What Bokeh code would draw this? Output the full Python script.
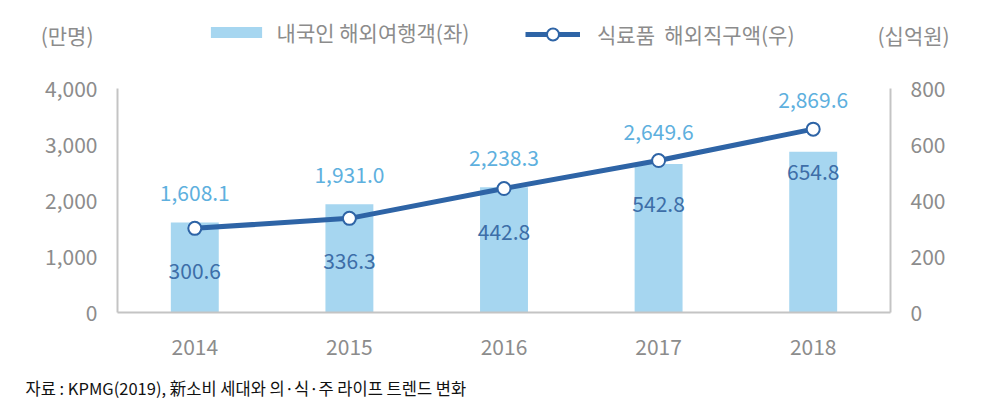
from bokeh.plotting import figure
from bokeh.layouts import column
from bokeh.models import (Range1d, LinearAxis, FixedTicker, NumeralTickFormatter,
                          Legend, LegendItem, ColumnDataSource, FactorRange)
from bokeh.embed import file_html
from bokeh.resources import INLINE
from bokeh.core.properties import value

years = ["2014", "2015", "2016", "2017", "2018"]
travelers = [1608.1, 1931.0, 2238.3, 2649.6, 2869.6]   # 만명 (left axis)
purchases = [300.6, 336.3, 442.8, 542.8, 654.8]        # 십억원 (right axis)
left_ticks = [0, 1000, 2000, 3000, 4000]
right_ticks = [0, 200, 400, 600, 800]
bar_name = "내국인 해외여행객(좌)"
line_name = "식료품  해외직구액(우)"
left_unit = "(만명)"
right_unit = "(십억원)"
source_note = "자료 : KPMG(2019), 新소비 세대와 의·식·주 라이프 트렌드 변화"

FONT = "Noto Sans CJK KR"
BAR_C = "#a6d6f0"
LINE_C = "#2e64a6"
BAR_LBL_C = "#5eb0de"
LINE_LBL_C = "#3d6ea8"
GRAY = "#8c8c8c"
AX_C = "#c4c4c4"

W = 1000
MAIN_H, BOT_H = 372, 40
FRAME_H = 312          # frame spans page y 0..312 (header lives inside the frame)
PLOT_H = 224           # height of the 0..max value band
L_MAX, R_MAX = left_ticks[-1], right_ticks[-1]
HEADER_Y = 34          # header text row, px from top
unit_l = 4960          # left-axis value at the header row
unit_r = 992           # right-axis value at the header row

p = figure(width=W, height=MAIN_H, x_range=FactorRange(*years),
           y_range=Range1d(0, L_MAX * FRAME_H / PLOT_H),
           output_backend="svg", toolbar_location=None,
           min_border_left=117, min_border_right=110, min_border_top=0, min_border_bottom=60)
p.frame_align = False
p.extra_y_ranges = {"right": Range1d(0, R_MAX * FRAME_H / PLOT_H)}
p.outline_line_color = None
p.xgrid.visible = False
p.ygrid.visible = False

ratio = L_MAX / R_MAX
anchor = [max(t, q * ratio) for t, q in zip(travelers, purchases)]
src = ColumnDataSource(dict(
    x=years, t=travelers, q=purchases, anchor=anchor,
    tl=[f"{v:,.1f}" for v in travelers], ql=[f"{v:,.1f}" for v in purchases]))

bars = p.vbar(x="x", top="t", width=0.31, source=src, fill_color=BAR_C, line_color=None)
line = p.line(x="x", y="q", source=src, y_range_name="right", line_color=LINE_C, line_width=5)
pts = p.scatter(x="x", y="q", source=src, y_range_name="right", size=13, marker="circle",
                fill_color="white", line_color=LINE_C, line_width=2)

p.text(x="x", y="anchor", text="tl", source=src, text_align="center", text_baseline="middle",
       y_offset=-29, text_font=value(FONT), text_font_size="21px", text_color=BAR_LBL_C)
p.text(x="x", y="q", text="ql", source=src, y_range_name="right", text_align="center",
       text_baseline="middle", y_offset=43, text_font=value(FONT), text_font_size="21px",
       text_color=LINE_LBL_C)


def style(ax, line=False, standoff=20, size="21px"):
    ax.axis_line_color = AX_C if line else None
    ax.axis_line_width = 2
    ax.major_tick_line_color = None
    ax.minor_tick_line_color = None
    ax.major_tick_out = 0
    ax.major_tick_in = 0
    ax.minor_tick_out = 0
    ax.minor_tick_in = 0
    ax.major_label_standoff = standoff
    ax.major_label_text_font = FONT
    ax.major_label_text_font_size = size
    ax.major_label_text_color = GRAY


# left: line-only axis (inner), value labels, unit label (outer)
ax_l_line = p.yaxis[0]
ax_l_line.ticker = FixedTicker(ticks=[])
ax_l_line.bounds = (0, L_MAX)
style(ax_l_line, line=True, standoff=0)
ax_l_vals = LinearAxis(ticker=FixedTicker(ticks=left_ticks),
                       formatter=NumeralTickFormatter(format="0,0"))
style(ax_l_vals)
p.add_layout(ax_l_vals, "left")
ax_l_unit = LinearAxis(ticker=FixedTicker(ticks=[unit_l]),
                       major_label_overrides={unit_l: left_unit})
style(ax_l_unit, standoff=-51)
p.add_layout(ax_l_unit, "left")

# right: same structure
ax_r_line = LinearAxis(y_range_name="right", ticker=FixedTicker(ticks=[]), bounds=(0, R_MAX))
style(ax_r_line, line=True, standoff=0)
p.add_layout(ax_r_line, "right")
ax_r_vals = LinearAxis(y_range_name="right", ticker=FixedTicker(ticks=right_ticks))
style(ax_r_vals)
p.add_layout(ax_r_vals, "right")
ax_r_unit = LinearAxis(y_range_name="right", ticker=FixedTicker(ticks=[unit_r]),
                       major_label_overrides={unit_r: right_unit})
style(ax_r_unit, standoff=-71)
p.add_layout(ax_r_unit, "right")

style(p.xaxis[0], line=True, standoff=26)

common = dict(orientation="horizontal", padding=0, margin=0, border_line_color=None,
              background_fill_alpha=0, label_text_font=FONT, label_text_font_size="21px",
              label_text_color=GRAY)
leg_bar = Legend(items=[LegendItem(label=bar_name, renderers=[bars])],
                 location=(86.6, FRAME_H - HEADER_Y - 13), glyph_width=64, glyph_height=14,
                 label_standoff=9, **common)
leg_line = Legend(items=[LegendItem(label=line_name, renderers=[line, pts])],
                  location=(408, FRAME_H - HEADER_Y - 15), glyph_width=55, glyph_height=30,
                  label_standoff=17, **common)
p.add_layout(leg_bar, "center")
p.add_layout(leg_line, "center")

# footer: source
bot = figure(width=W, height=BOT_H, x_range=Range1d(0, W), y_range=Range1d(BOT_H, 0),
             output_backend="svg", toolbar_location=None, x_axis_type=None, y_axis_type=None,
             min_border=0)
bot.frame_align = False
bot.outline_line_color = None
bot.xgrid.visible = False
bot.ygrid.visible = False
bot.text(x=[25], y=[15], text=[source_note], text_align="left", text_baseline="middle",
         text_font=value(FONT), text_font_size="16.5px", text_color="#111111")

layout = column(p, bot, spacing=0)
open("out.html", "w").write(file_html(layout, INLINE))
